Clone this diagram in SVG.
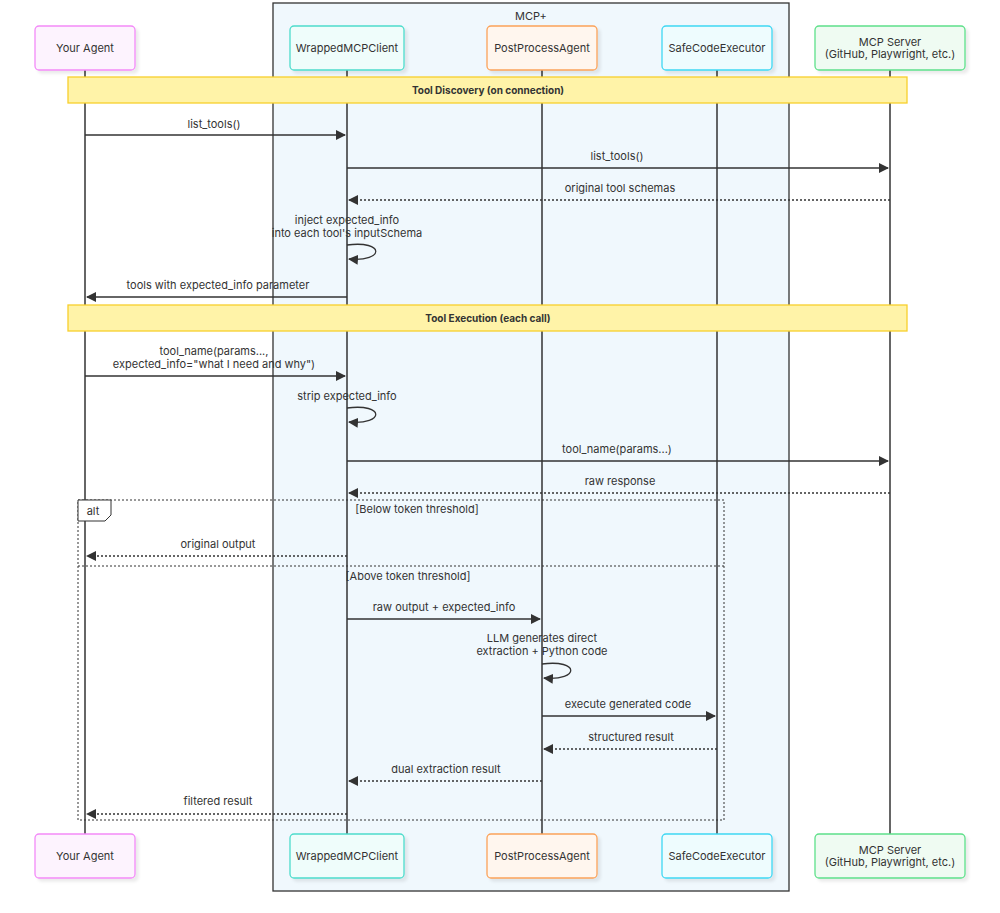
<svg xmlns="http://www.w3.org/2000/svg" width="1000" height="913" viewBox="0 0 1000 913">
<style>
text{font-family:Inter,"Noto Sans",sans-serif;font-size:11px;fill:#333;text-anchor:middle}
.ll{stroke:#333;stroke-width:1.5}
.m{stroke:#333;stroke-width:1.3;fill:none}
.d{stroke-dasharray:2,2}
.note{fill:#fff3a8;stroke:#f8cf2c;stroke-width:1.3}
.nt{font-weight:bold;font-size:10px}
</style>
<defs>
<marker id="a" markerWidth="10" markerHeight="10" refX="9" refY="5" orient="auto" markerUnits="userSpaceOnUse"><path d="M0,0 L10,5 L0,10 z" fill="#333"/></marker>
<filter id="sh" x="-10%" y="-10%" width="130%" height="140%"><feDropShadow dx="3" dy="3" stdDeviation="1.5" flood-color="#000" flood-opacity="0.08"/></filter>
</defs>
<rect x="0" y="0" width="1000" height="913" fill="#fff"/>
<g id="mcpplus"><rect x="273" y="3" width="516" height="888" fill="#f0f8fd" stroke="#333" stroke-width="1.3"/><text x="531" y="20">MCP+</text></g>
<g id="lifelines">
<line class="ll" x1="85" y1="70" x2="85" y2="834"/>
<line class="ll" x1="347" y1="70" x2="347" y2="834"/>
<line class="ll" x1="542" y1="70" x2="542" y2="834"/>
<line class="ll" x1="717" y1="70" x2="717" y2="834"/>
<line class="ll" x1="890" y1="70" x2="890" y2="834"/>
</g>
<g id="n-agent"><rect x="35" y="26" width="100" height="44" rx="4" fill="#fdf3fe" stroke="#f38af8" stroke-width="1.3" filter="url(#sh)"/><text x="85" y="52">Your Agent</text>
<rect x="35" y="834" width="100" height="44" rx="4" fill="#fdf3fe" stroke="#f38af8" stroke-width="1.3" filter="url(#sh)"/><text x="85" y="860">Your Agent</text></g>
<g id="n-wrapped"><rect x="290" y="26" width="114" height="44" rx="4" fill="#effdfb" stroke="#4ddccc" stroke-width="1.3" filter="url(#sh)"/><text x="347" y="52">WrappedMCPClient</text>
<rect x="290" y="834" width="114" height="44" rx="4" fill="#effdfb" stroke="#4ddccc" stroke-width="1.3" filter="url(#sh)"/><text x="347" y="860">WrappedMCPClient</text></g>
<g id="n-post"><rect x="487" y="26" width="110" height="44" rx="4" fill="#fff6ee" stroke="#fba35a" stroke-width="1.3" filter="url(#sh)"/><text x="542" y="52">PostProcessAgent</text>
<rect x="487" y="834" width="110" height="44" rx="4" fill="#fff6ee" stroke="#fba35a" stroke-width="1.3" filter="url(#sh)"/><text x="542" y="860">PostProcessAgent</text></g>
<g id="n-safe"><rect x="662" y="26" width="110" height="44" rx="4" fill="#eefcfe" stroke="#3fd7f3" stroke-width="1.3" filter="url(#sh)"/><text x="717" y="52">SafeCodeExecutor</text>
<rect x="662" y="834" width="110" height="44" rx="4" fill="#eefcfe" stroke="#3fd7f3" stroke-width="1.3" filter="url(#sh)"/><text x="717" y="860">SafeCodeExecutor</text></g>
<g id="n-server"><rect x="815" y="26" width="150" height="44" rx="4" fill="#effbf2" stroke="#5ee08a" stroke-width="1.3" filter="url(#sh)"/><text x="890" y="46">MCP Server</text><text x="890" y="58">(GitHub, Playwright, etc.)</text>
<rect x="815" y="834" width="150" height="44" rx="4" fill="#effbf2" stroke="#5ee08a" stroke-width="1.3" filter="url(#sh)"/><text x="890" y="854">MCP Server</text><text x="890" y="866">(GitHub, Playwright, etc.)</text></g>
<g id="notes">
<rect class="note" x="68" y="77" width="839" height="26"/><text class="nt" x="488" y="94">Tool Discovery (on connection)</text>
<rect class="note" x="68" y="305" width="839" height="26"/><text class="nt" x="488" y="322">Tool Execution (each call)</text>
</g>
<g id="alt">
<rect x="78" y="500" width="646" height="320" fill="none" stroke="#333" stroke-width="1" stroke-dasharray="2,2"/>
<path d="M78,500 H111 V515 L105,521 H78 Z" fill="#fff" stroke="#333" stroke-width="1"/>
<text x="93" y="515">alt</text>
<text x="417" y="513">[Below token threshold]</text>
<line x1="78" y1="566" x2="724" y2="566" stroke="#333" stroke-width="1" stroke-dasharray="2,2"/>
<text x="408" y="580">[Above token threshold]</text>
</g>
<g id="connectors">
<line class="m" x1="85" y1="135" x2="345" y2="135" marker-end="url(#a)"/><text x="214" y="128">list_tools()</text>
<line class="m" x1="347" y1="168" x2="888" y2="168" marker-end="url(#a)"/><text x="617" y="160">list_tools()</text>
<line class="m d" x1="890" y1="200" x2="349" y2="200" marker-end="url(#a)"/><text x="620" y="192">original tool schemas</text>
<text x="347" y="224">inject expected_info</text><text x="347" y="237">into each tool's inputSchema</text>
<path class="m" d="M347,245 C385,240 385,262 349,259" marker-end="url(#a)"/>
<line class="m" x1="347" y1="297" x2="87" y2="297" marker-end="url(#a)"/><text x="218" y="289">tools with expected_info parameter</text>
<line class="m" x1="85" y1="376" x2="345" y2="376" marker-end="url(#a)"/><text x="214" y="355">tool_name(params...,</text><text x="214" y="368">expected_info="what I need and why")</text>
<text x="347" y="400">strip expected_info</text>
<path class="m" d="M347,408 C385,403 385,425 349,422" marker-end="url(#a)"/>
<line class="m" x1="347" y1="461" x2="888" y2="461" marker-end="url(#a)"/><text x="617" y="453">tool_name(params...)</text>
<line class="m d" x1="890" y1="493" x2="349" y2="493" marker-end="url(#a)"/><text x="620" y="485">raw response</text>
<line class="m d" x1="347" y1="556" x2="87" y2="556" marker-end="url(#a)"/><text x="218" y="548">original output</text>
<line class="m" x1="347" y1="619" x2="540" y2="619" marker-end="url(#a)"/><text x="444" y="611">raw output + expected_info</text>
<text x="542" y="642">LLM generates direct</text><text x="542" y="655">extraction + Python code</text>
<path class="m" d="M542,664 C580,659 580,681 544,678" marker-end="url(#a)"/>
<line class="m" x1="542" y1="716" x2="715" y2="716" marker-end="url(#a)"/><text x="628" y="708">execute generated code</text>
<line class="m d" x1="717" y1="749" x2="544" y2="749" marker-end="url(#a)"/><text x="631" y="741">structured result</text>
<line class="m d" x1="542" y1="781" x2="349" y2="781" marker-end="url(#a)"/><text x="446" y="773">dual extraction result</text>
<line class="m d" x1="347" y1="814" x2="87" y2="814" marker-end="url(#a)"/><text x="218" y="805">filtered result</text>
</g>
</svg>
